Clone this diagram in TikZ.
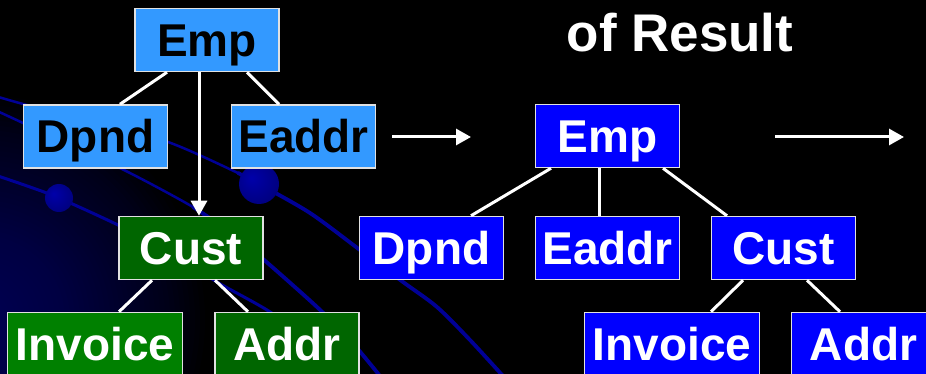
\documentclass[tikz,border=0pt]{standalone}
\usepackage{fontspec}
\setmainfont{Liberation Sans}
\usetikzlibrary{arrows.meta}

\definecolor{skyfill}{RGB}{51,153,255}
\definecolor{royalfill}{RGB}{0,0,255}
\definecolor{leaffill}{RGB}{0,102,0}
\definecolor{brightleaf}{RGB}{0,128,0}
\definecolor{framegray}{RGB}{225,225,225}
\definecolor{streak}{RGB}{0,0,150}
\definecolor{glowblue}{RGB}{0,0,150}
\definecolor{orblight}{RGB}{0,0,170}
\definecolor{orbmid}{RGB}{0,0,130}
\definecolor{orbdark}{RGB}{0,0,85}

\pgfdeclareradialshading{orb}{\pgfpoint{-10bp}{8bp}}%
  {color(0bp)=(orblight); color(28bp)=(orbmid); color(50bp)=(orbdark)}

\tikzset{
  box/.style={draw=framegray, line width=1.5pt, minimum width=144pt,
    minimum height=63pt, inner sep=0pt, text height=33pt, text depth=0pt,
    font=\fontsize{46}{50}\selectfont\bfseries},
  skybox/.style={box, fill=skyfill, text=black},
  royalbox/.style={box, fill=royalfill, text=white},
  leafbox/.style={box, fill=leaffill, text=white},
  widebox/.style={minimum width=175pt},
  link/.style={draw=white, line width=3pt},
  pointer/.style={draw=white, line width=3pt,
    -{Triangle[length=15pt,width=16pt]}},
  streakline/.style={draw=streak, line width=3.8pt, line cap=round},
  glowring/.style={fill=glowblue, fill opacity=0.025},
  titletext/.style={text=white, inner sep=0pt,
    font=\fontsize{53}{58}\selectfont\bfseries}
}

\begin{document}
\begin{tikzpicture}[x=1pt, y=-1pt]
  \useasboundingbox (0,0) rectangle (926,374);
  \clip (0,0) rectangle (926,374);

  % backdrop: black slide with a soft blue glow in the lower left corner
  \fill[black] (0,0) rectangle (926,374);
  \foreach \r in {5,10,...,225}
    \fill[glowring] (-20,320) circle (\r);

  % decorative streaks and orbs
  \draw[streakline, line width=2.5pt] plot[smooth] coordinates
    {(-5,96) (23,104) (95,123) (168,142) (238,173) (259,184) (310,213)
     (360,250) (403,282) (437,307) (470,340) (503,376)};
  \draw[streakline, line width=2.5pt] plot[smooth] coordinates
    {(-5,110) (23,123) (120,168) (193,207) (230,232) (263,259)
     (317,307) (350,340) (380,376)};
  \draw[streakline, line width=3pt] plot[smooth] coordinates
    {(-5,175) (30,187) (59,198) (118,225) (170,252) (217,282)
     (267,310) (310,340) (345,376)};
  \draw[streakline] plot[smooth] coordinates
    {(238,173) (259,184) (310,213) (360,250) (403,282) (437,307)
     (470,340) (503,376)};
  \draw[streakline] plot[smooth] coordinates
    {(193,207) (230,232) (263,259) (317,307) (350,340) (380,376)};
  \shade[shading=orb] (259,184) circle (20);
  \shade[shading=orb] (59,198) circle (14);

  % heading
  \node[titletext, anchor=base] (title) at (680,52) {of Result};

  % source tree
  \node[skybox] (empA) at (207,40) {Emp};
  \node[skybox] (dpndA) at (95.5,136.5) {Dpnd};
  \node[skybox] (eaddrA) at (303.5,136.5) {Eaddr};
  \node[leafbox] (custA) at (191,248) {Cust};
  \node[leafbox, widebox, fill=brightleaf] (invoiceA) at (95,344) {Invoice};
  \node[leafbox] (addrA) at (287,344) {Addr};

  \draw[link] ([xshift=-40pt]empA.south) -- ([xshift=24.5pt]dpndA.north);
  \draw[link] ([xshift=40pt]empA.south) -- ([xshift=-24.5pt]eaddrA.north);
  \draw[pointer] ([xshift=-8pt]empA.south) -- ([xshift=8pt]custA.north);
  \draw[link] ([xshift=-39pt]custA.south) -- ([xshift=24pt]invoiceA.north);
  \draw[link] ([xshift=24pt]custA.south) -- ([xshift=-39pt]addrA.north);

  % result tree
  \node[royalbox] (empB) at (607.5,136) {Emp};
  \node[royalbox] (dpndB) at (431.5,248) {Dpnd};
  \node[royalbox] (eaddrB) at (607.5,248) {Eaddr};
  \node[royalbox] (custB) at (783.5,248) {Cust};
  \node[royalbox, widebox] (invoiceB) at (672,344) {Invoice};
  \node[royalbox] (addrB) at (863.5,344) {Addr};

  \draw[link] ([xshift=-56.5pt]empB.south) -- ([xshift=39.5pt]dpndB.north);
  \draw[link] ([xshift=-8.5pt]empB.south) -- ([xshift=-8.5pt]eaddrB.north);
  \draw[link] ([xshift=55.5pt]empB.south) -- ([xshift=-56.5pt]custB.north);
  \draw[link] ([xshift=-40.5pt]custB.south) -- ([xshift=39pt]invoiceB.north);
  \draw[link] ([xshift=23.5pt]custB.south) -- ([xshift=-23.5pt]addrB.north);

  % step arrows
  \coordinate (stepOneTail) at (392,137);
  \coordinate (stepOneHead) at (471,137);
  \coordinate (stepTwoTail) at (775,137);
  \coordinate (stepTwoHead) at (904,137);
  \draw[pointer] (stepOneTail) -- (stepOneHead);
  \draw[pointer] (stepTwoTail) -- (stepTwoHead);
\end{tikzpicture}
\end{document}
